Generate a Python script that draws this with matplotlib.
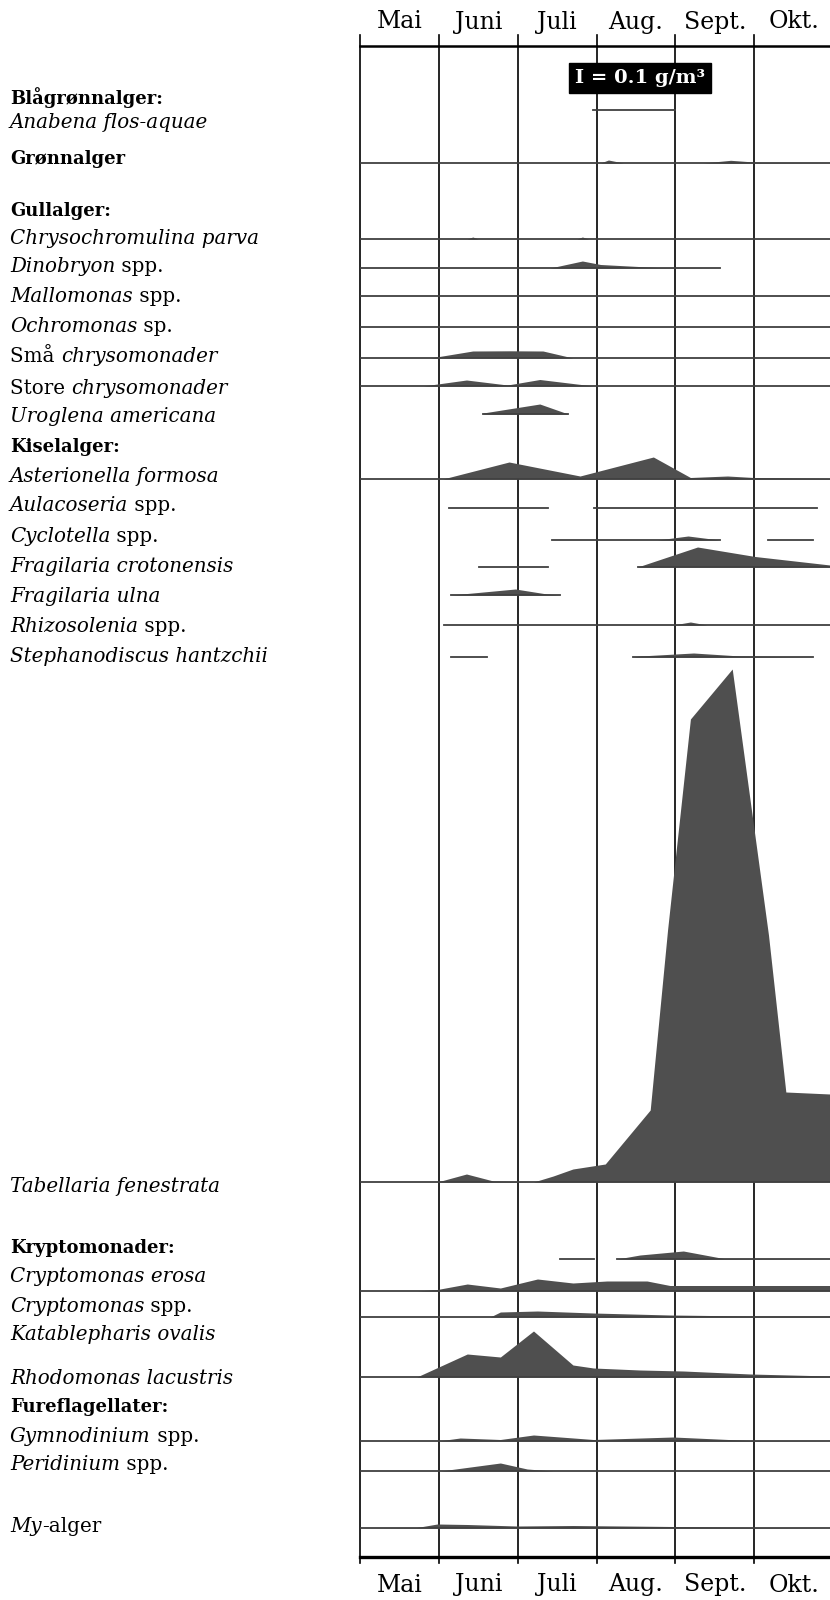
import matplotlib
matplotlib.use("Agg")
import matplotlib.pyplot as plt
import numpy as np

W, H, DPI = 830, 1600, 100
MG_PER_PX = 10.0   # 0.1 g/m3 ~ 10 px in the original drawing
X_MAX = 5.96       # months after 1 May shown on the axis

months = ["Mai", "Juni", "Juli", "Aug.", "Sept.", "Okt."]

# biomass profiles (mg/m3) per taxon: list of segments (months after 1 May, values)
anabena = [([2.96, 4.00], [0, 0])]
gronn = [([0, 3.05, 3.15, 3.34, 4.35, 4.70, 5.08, 5.96], [0, 0, 30, 0, 0, 27, 5, 0])]
chryso = [([0, 1.36, 1.43, 1.50, 2.75, 2.82, 2.90, 5.96], [0, 0, 20, 0, 0, 20, 0, 0])]
dinobryon = [([0, 2.41, 2.82, 3.05, 3.77, 4.56], [0, 0, 70, 35, 5, 0])]
mallomonas = [([0, 5.96], [0, 0])]
ochromonas = [([0, 5.96], [0, 0])]
sma_chr = [([0, 0.89, 1.43, 1.90, 2.32, 2.70, 5.96], [0, 0, 70, 72, 70, 0, 0])]
store_chr = [([0, 0.80, 1.35, 1.87, 2.28, 2.96, 5.96], [0, 0, 60, 10, 65, 0, 0])]
uroglena = [([1.56, 2.28, 2.64], [10, 100, 0])]
asterionella = [([0, 1.05, 1.89, 2.79, 3.72, 4.19, 4.66, 4.99, 5.96],
                 [0, 0, 170, 30, 220, 15, 30, 15, 5])]
aulacoseria = [([1.13, 2.39], [0, 0]), ([2.97, 5.79], [0, 0])]
cyclotella = [([2.44, 3.77, 4.16, 4.56], [0, 0, 40, 0]), ([5.18, 5.75], [0, 0])]
frag_crot = [([1.51, 2.39], [0, 0]), ([3.52, 4.28, 5.01, 5.96], [0, 200, 105, 20])]
frag_ulna = [([1.15, 1.36, 1.97, 2.37, 2.54], [0, 15, 60, 10, 0])]
rhizosolenia = [([1.07, 3.97, 4.19, 4.40, 5.96], [0, 0, 30, 0, 0])]
stephanodiscus = [([1.15, 1.61], [0, 0]), ([3.46, 3.55, 4.23, 4.82, 5.75], [0, 10, 40, 10, 0])]
tabellaria = [([0, 0.98, 1.35, 1.69, 2.20, 2.45, 2.70, 3.11, 3.68, 3.90, 4.19, 4.72, 5.18, 5.40, 5.96],
               [0, 0, 80, 10, 0, 60, 130, 180, 720, 2520, 4630, 5130, 2470, 900, 880])]
crypto_erosa = [([2.54, 2.97], [0, 0]), ([3.26, 3.55, 4.10, 4.61, 5.96], [0, 40, 80, 5, 0])]
crypto_spp = [([0, 0.72, 0.98, 1.36, 1.78, 2.25, 2.70, 3.13, 3.64, 3.93, 5.96],
               [0, 0, 15, 70, 30, 120, 80, 100, 100, 55, 55])]
katablepharis = [([0, 1.65, 1.78, 2.25, 2.96, 3.93, 4.95, 5.96], [0, 0, 50, 60, 40, 20, 10, 10])]
rhodomonas = [([0, 0.72, 1.36, 1.78, 2.20, 2.70, 2.96, 3.55, 4.10, 4.95, 5.96],
               [0, 0, 230, 200, 460, 120, 90, 70, 60, 30, 10])]
gymnodinium = [([0, 0.99, 1.27, 1.78, 2.20, 2.96, 3.97, 4.95, 5.96], [0, 0, 30, 15, 60, 15, 40, 5, 0])]
peridinium = [([0, 1.02, 1.78, 2.12, 2.45, 5.96], [0, 0, 80, 20, 0, 0])]
my_alger = [([0, 0.72, 0.98, 1.36, 1.99, 2.70, 3.97, 4.95, 5.96], [0, 5, 40, 35, 20, 25, 15, 5, 0])]

series = [anabena, gronn, chryso, dinobryon, mallomonas, ochromonas, sma_chr, store_chr,
          uroglena, asterionella, aulacoseria, cyclotella, frag_crot, frag_ulna,
          rhizosolenia, stephanodiscus, tabellaria, crypto_erosa, crypto_spp,
          katablepharis, rhodomonas, gymnodinium, peridinium, my_alger]
# baseline of each row, pixels from the top of the figure
row_px = [110, 163, 239, 268, 296, 327, 358, 386, 414, 479, 508, 540, 567, 595,
          625, 657, 1182, 1259, 1291, 1317, 1377, 1441, 1471, 1528]

# left labels: pieces with style b=bold, i=italic, r=roman
labels = [
    [("Blågrønnalger:", "b")],
    [("Anabena flos-aquae", "i")],
    [("Grønnalger", "b")],
    [("Gullalger:", "b")],
    [("Chrysochromulina parva", "i")],
    [("Dinobryon", "i"), (" spp.", "r")],
    [("Mallomonas", "i"), (" spp.", "r")],
    [("Ochromonas", "i"), (" sp.", "r")],
    [("Små ", "r"), ("chrysomonader", "i")],
    [("Store ", "r"), ("chrysomonader", "i")],
    [("Uroglena americana", "i")],
    [("Kiselalger:", "b")],
    [("Asterionella formosa", "i")],
    [("Aulacoseria", "i"), (" spp.", "r")],
    [("Cyclotella", "i"), (" spp.", "r")],
    [("Fragilaria crotonensis", "i")],
    [("Fragilaria ulna", "i")],
    [("Rhizosolenia", "i"), (" spp.", "r")],
    [("Stephanodiscus hantzchii", "i")],
    [("Tabellaria fenestrata", "i")],
    [("Kryptomonader:", "b")],
    [("Cryptomonas erosa", "i")],
    [("Cryptomonas", "i"), (" spp.", "r")],
    [("Katablepharis ovalis", "i")],
    [("Rhodomonas lacustris", "i")],
    [("Fureflagellater:", "b")],
    [("Gymnodinium", "i"), (" spp.", "r")],
    [("Peridinium", "i"), (" spp.", "r")],
    [("My", "i"), ("-alger", "r")],
]
label_px = [98, 122, 159, 211, 238, 267, 296, 327, 357, 388, 416, 447, 477, 506, 537,
            567, 597, 627, 657, 1187, 1248, 1276, 1306, 1335, 1378, 1407, 1437, 1465, 1527]

plt.rcParams['font.family'] = ['DejaVu Serif']
fig = plt.figure(figsize=(W / DPI, H / DPI), dpi=DPI)
fig.patch.set_facecolor("white")

TOP, BOT, LEFT = 46, 1557, 360
ax = fig.add_axes([LEFT / W, 1 - BOT / H, (W - LEFT) / W, (BOT - TOP) / H])
ax.set_xlim(0, X_MAX)
ax.set_ylim(BOT - TOP, 0)
ax.axis("off")

# month grid lines, frame top and bottom
for m in range(len(months)):
    ax.plot([m, m], [-11, BOT - TOP + 6], color="black", lw=1.2, clip_on=False, zorder=1)
ax.plot([0, X_MAX], [0, 0], color="black", lw=1.8, clip_on=False, zorder=5)
ax.plot([0, X_MAX], [BOT - TOP, BOT - TOP], color="black", lw=2.4, clip_on=False, zorder=5)

for i, name in enumerate(months):
    ax.text(i + 0.5, 22 - TOP, name, ha="center", va="center", fontsize=17, clip_on=False)
    ax.text(i + 0.5, 1585 - TOP, name, ha="center", va="center", fontsize=17, clip_on=False)

# profiles
for segs, py in zip(series, row_px):
    base = py - TOP
    for xs, vals in segs:
        xs = np.array(xs, dtype=float)
        h = np.array(vals, dtype=float) / MG_PER_PX
        ax.fill_between(xs, base, base - h, color="#4f4f4f", lw=0, zorder=3)
        ax.plot([xs[0], xs[-1]], [base, base], color="#404040", lw=1.3, zorder=4)

# scale box
ax.text(3.55, 78 - TOP, "I = 0.1 g/m³", ha="center", va="center", fontsize=14,
        fontweight="bold", color="white", zorder=6,
        bbox=dict(boxstyle="square,pad=0.3", fc="black", ec="black"))

# labels on the left
renderer = fig.canvas.get_renderer()
styles = {"b": dict(fontweight="bold", fontsize=13),
          "i": dict(fontstyle="italic", fontsize=14.3),
          "r": dict(fontsize=14.3)}
for parts, py in zip(labels, label_px):
    x = 10
    for txt, st in parts:
        t = fig.text(x / W, 1 - py / H, txt, ha="left", va="center", **styles[st])
        x += t.get_window_extent(renderer).width

fig.savefig("out.png", dpi=DPI)
